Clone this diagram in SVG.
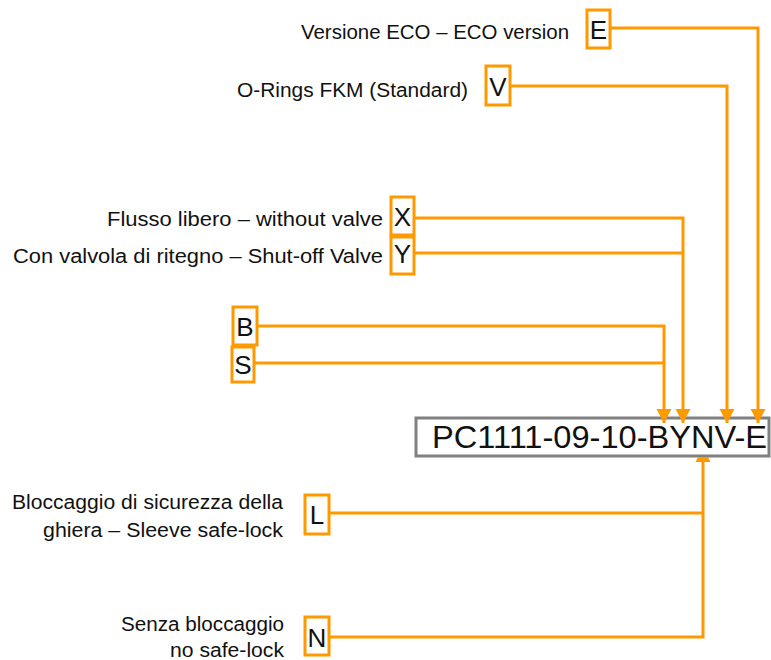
<svg xmlns="http://www.w3.org/2000/svg" width="771" height="660" viewBox="0 0 771 660">
<style>
  .lbl { font-family: "Liberation Sans", Arial, sans-serif; font-size: 20px; fill: #111; text-anchor: end; }
  .code { font-family: "Liberation Sans", Arial, sans-serif; font-size: 26px; fill: #111; text-anchor: middle; }
  .cbox { fill: #fff; stroke: #FF9900; stroke-width: 3; }
  .conn { fill: none; stroke: #FF9900; stroke-width: 3; }
  .main { fill: #fff; stroke: #808080; stroke-width: 3; }
  .maintxt { font-family: "Liberation Sans", Arial, sans-serif; font-size: 32px; fill: #111; }
</style>
<defs>
  <marker id="arr" markerUnits="userSpaceOnUse" markerWidth="16" markerHeight="16" viewBox="0 0 16 16" refX="14" refY="8" orient="auto">
    <polygon points="0,0.5 14,8 0,15.5" fill="#FF9900"/>
  </marker>
  <marker id="arrcut" markerUnits="userSpaceOnUse" markerWidth="8" markerHeight="16" viewBox="0 0 8 16" refX="5" refY="8" orient="auto">
    <polygon points="0,0.5 5,3 5,13 0,15.5" fill="#FF9900"/>
  </marker>
</defs>
<rect width="771" height="660" fill="#fff"/>

<g id="node-main">
  <rect class="main" x="416" y="418" width="353" height="38"/>
  <text class="maintxt" x="432" y="448" textLength="335" lengthAdjust="spacingAndGlyphs">PC1111-09-10-BYNV-E</text>
</g>

<g id="connectors">
  <path class="conn" d="M610,28 H758 V423" marker-end="url(#arr)"/>
  <path class="conn" d="M510,86 H727 V423" marker-end="url(#arr)"/>
  <path class="conn" d="M414,218 H683 V423" marker-end="url(#arr)"/>
  <path class="conn" d="M414,253 H683"/>
  <path class="conn" d="M257,326 H664 V423" marker-end="url(#arr)"/>
  <path class="conn" d="M254,363 H664"/>
  <path class="conn" d="M329,637 H703 V457" marker-end="url(#arrcut)"/>
  <path class="conn" d="M329,513 H703"/>
</g>

<g id="node-E">
  <text class="lbl" x="569" y="39" textLength="268" lengthAdjust="spacingAndGlyphs">Versione ECO – ECO version</text>
  <rect class="cbox" x="587" y="10" width="23" height="38"/>
  <text class="code" x="598.5" y="39">E</text>
</g>

<g id="node-V">
  <text class="lbl" x="468" y="97" textLength="231" lengthAdjust="spacingAndGlyphs">O-Rings FKM (Standard)</text>
  <rect class="cbox" x="486" y="66" width="24" height="39"/>
  <text class="code" x="498" y="96">V</text>
</g>

<g id="node-X">
  <text class="lbl" x="383" y="226" textLength="276" lengthAdjust="spacingAndGlyphs">Flusso libero – without valve</text>
  <rect class="cbox" x="391" y="197" width="23" height="38"/>
  <text class="code" x="402.5" y="226">X</text>
</g>

<g id="node-Y">
  <text class="lbl" x="383" y="263" textLength="370" lengthAdjust="spacingAndGlyphs">Con valvola di ritegno – Shut-off Valve</text>
  <rect class="cbox" x="391" y="237" width="23" height="37"/>
  <text class="code" x="402.5" y="263">Y</text>
</g>

<g id="node-B">
  <rect class="cbox" x="233" y="307" width="24" height="38"/>
  <text class="code" x="245" y="336">B</text>
</g>

<g id="node-S">
  <rect class="cbox" x="232" y="347" width="22" height="35"/>
  <text class="code" x="243" y="374">S</text>
</g>

<g id="node-L">
  <text class="lbl" x="283" y="509" textLength="271" lengthAdjust="spacingAndGlyphs">Bloccaggio di sicurezza della</text>
  <text class="lbl" x="283" y="537" textLength="240" lengthAdjust="spacingAndGlyphs">ghiera – Sleeve safe-lock</text>
  <rect class="cbox" x="305" y="495" width="24" height="39"/>
  <text class="code" x="317" y="524">L</text>
</g>

<g id="node-N">
  <text class="lbl" x="284" y="631" textLength="163" lengthAdjust="spacingAndGlyphs">Senza bloccaggio</text>
  <text class="lbl" x="284" y="657" textLength="114" lengthAdjust="spacingAndGlyphs">no safe-lock</text>
  <rect class="cbox" x="305" y="617" width="24" height="38"/>
  <text class="code" x="317" y="647">N</text>
</g>
</svg>
